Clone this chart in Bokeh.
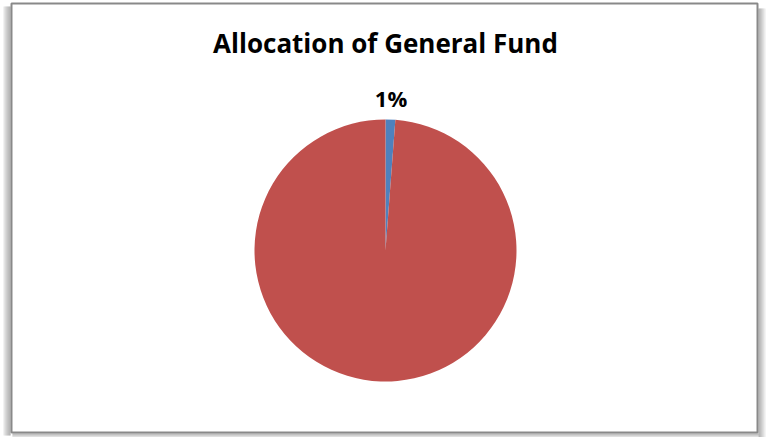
import math
from bokeh.plotting import figure
from bokeh.models import Range1d, ColumnDataSource, Label
from bokeh.embed import file_html
from bokeh.resources import INLINE
from bokeh.core.properties import value

# ---- data ----
title_text = "Allocation of General Fund"
categories = ["Share A", "Share B"]
shares = [1.2, 98.8]
slice_labels = ["1%", ""]
colors = ["#4F81BD", "#C0504D"]

# ---- layout (page pixel coordinates; data y = 437 - page y) ----
W, H = 767, 437
cx, cy_page, radius = 385, 250, 131
cy = H - cy_page

def py(y):
    return H - y

p = figure(width=W, height=H, output_backend="svg", toolbar_location=None,
           x_range=Range1d(0, W), y_range=Range1d(0, H),
           min_border=0, outline_line_color=None, background_fill_color="white",
           border_fill_color="white")
p.axis.visible = False
p.grid.visible = False

# shadow around the frame
shade_left = ["#e6e6e6", "#d6d6d6", "#c8c8c8", "#bcbcbc", "#b0b0b0", "#a6a6a6", "#9c9c9c"]
for i, c in enumerate(shade_left):
    p.quad(left=[3 + i], right=[4 + i], bottom=[py(435)], top=[py(6)], fill_color=c, line_color=None)
shade_right = ["#9a9a9a", "#a4a4a4", "#b0b0b0", "#bdbdbd", "#cbcbcb", "#dadada", "#eaeaea"]
for i, c in enumerate(shade_right):
    p.quad(left=[758 + i], right=[759 + i], bottom=[py(437)], top=[py(8)], fill_color=c, line_color=None)
shade_bottom = ["#a0a0a0", "#b4b4b4", "#c8c8c8", "#dcdcdc"]
for i, c in enumerate(shade_bottom):
    p.quad(left=[12], right=[758], bottom=[py(434 + i)], top=[py(433 + i)], fill_color=c, line_color=None)

# frame
p.quad(left=[11], right=[757], bottom=[py(432)], top=[py(3)], fill_color="white",
       line_color="#898989", line_width=2)

# wedges: start at 12 o'clock, clockwise
total = float(sum(shares))
starts, ends, mids = [], [], []
cum = 0.0
for s in shares:
    a0 = math.pi / 2 - 2 * math.pi * (cum + s) / total
    a1 = math.pi / 2 - 2 * math.pi * cum / total
    starts.append(a0)
    ends.append(a1)
    mids.append((a0 + a1) / 2)
    cum += s

src = ColumnDataSource(dict(cat=categories, share=shares, start=starts, end=ends, color=colors))
p.wedge(x=cx, y=cy, radius=radius, start_angle="start", end_angle="end", fill_color="color",
        line_color=None, source=src)

# labels (outside end)
lx, ly, lt = [], [], []
for lab, m in zip(slice_labels, mids):
    if lab:
        lx.append(cx + (radius + 16) * math.cos(m))
        ly.append(cy + (radius + 22) * math.sin(m))
        lt.append(lab)
lsrc = ColumnDataSource(dict(x=lx, y=ly, text=lt))
p.text(x="x", y="y", text="text", source=lsrc, text_font=value("Open Sans"), text_font_style="bold",
       text_font_size="22px", text_color="black", text_align="center", text_baseline="alphabetic")

p.add_layout(Label(x=385, y=py(42), text=title_text, text_font="Open Sans", text_font_style="bold",
                   text_font_size="26px", text_color="black", text_align="center",
                   text_baseline="alphabetic"))

open("out.html", "w").write(file_html(p, INLINE))
